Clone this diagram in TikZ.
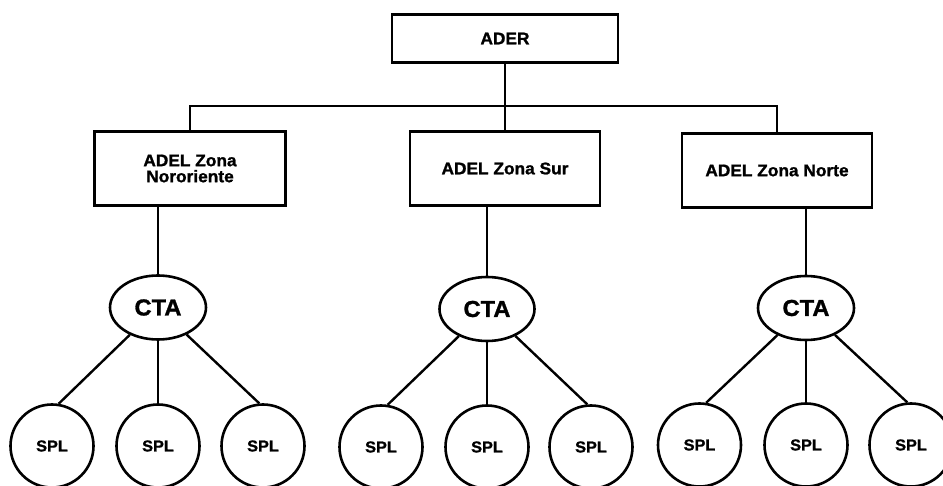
\documentclass[tikz,border=0pt]{standalone}
\usepackage{fontspec}
\setmainfont{Liberation Sans}[FakeStretch=1.03,BoldFeatures={FakeBold=1.3}]
\usetikzlibrary{shapes.geometric}
\begin{document}
\begin{tikzpicture}[x=1pt,y=1pt,line width=2.6pt,
  boxnode/.style={draw,rectangle,inner sep=0pt,minimum width=191pt,minimum height=74pt,
    align=center,font=\fontsize{16.8}{16}\selectfont\bfseries},
  ctanode/.style={draw,ellipse,inner sep=0pt,minimum width=96pt,minimum height=64pt,
    font=\fontsize{23}{23}\selectfont\bfseries},
  splnode/.style={draw,circle,inner sep=0pt,minimum size=83pt,
    font=\fontsize{15.8}{16}\selectfont\bfseries},
  link/.style={line width=2.4pt}]
\useasboundingbox (0,0) rectangle (943,-486);
% top
\node[boxnode,minimum width=226pt,minimum height=48pt] (ader) at (505,-38.5) {ADER};
\node[boxnode] (b1) at (190,-168.5) {ADEL Zona\\Nororiente};
\node[boxnode,minimum width=190pt] (b2) at (505,-168.5) {ADEL Zona Sur};
\node[boxnode,minimum width=190pt] (b3) at (777,-170.5) {ADEL Zona Norte};
\coordinate (bus) at (505,-106);
\draw[link] (ader.south) -- (b2.north);
\draw[link] (b1.north) -- (b1.north |- bus) -- (b3.north |- bus) -- (b3.north);
% CTA
\node[ctanode] (c1) at (158,-307.5) {CTA};
\node[ctanode,minimum width=95pt] (c2) at (487,-309) {CTA};
\node[ctanode] (c3) at (806,-308) {CTA};
\draw[link] (c1.north) -- (c1.north |- b1.south);
\draw[link] (c2.north) -- (c2.north |- b2.south);
\draw[link] (c3.north) -- (c3.north |- b3.south);
% SPL
\node[splnode] (s11) at (52,-446) {SPL};
\node[splnode] (s12) at (158,-446) {SPL};
\node[splnode] (s13) at (263,-446) {SPL};
\node[splnode] (s21) at (381,-447) {SPL};
\node[splnode] (s22) at (487,-447) {SPL};
\node[splnode] (s23) at (591,-447) {SPL};
\node[splnode] (s31) at (699.5,-445) {SPL};
\node[splnode] (s32) at (806,-445) {SPL};
\node[splnode] (s33) at (911,-445) {SPL};
\foreach \c/\a/\b/\d in {c1/s11/s12/s13,c2/s21/s22/s23,c3/s31/s32/s33}{
  \draw[link] (\c) -- (\a.81);
  \draw[link] (\c.south) -- (\b.north);
  \draw[link] (\c) -- (\d.95);
}
\end{tikzpicture}
\end{document}
